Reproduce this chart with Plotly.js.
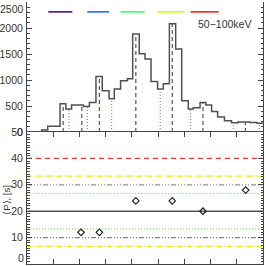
<!DOCTYPE html>
<html><head><meta charset="utf-8">
<script src="https://cdn.plot.ly/plotly-3.0.1.min.js"></script>
<style>html,body{margin:0;padding:0;background:#fff}#c{width:266px;height:266px}</style>
</head><body><div id="c"></div>
<script>
// light curve bin edges (s) and counts
const binEdges = [0,5.6,7.9,12.6,14.8,17.0,21.5,23.8,26.3,28.7,31.3,33.3,35.7,38.3,40.3,42.8,45.0,47.3,49.8,52.0,54.3,56.7,59.0,61.5,63.4,66.0,68.2,70.4,72.7,75.3,78.0,80.5,85.0,87.7,90];
const counts   = [0,40,110,544,442,519,492,569,1069,794,640,827,987,1025,1885,1506,1404,973,827,929,2083,1596,602,442,467,569,519,396,288,215,180,190,182,168];
// peak (dashed) and valley (dotted) times
const peakTimes   = [13.8,20.9,27.6,41.5,55.4,67.1,83.3];
const valleyTimes = [16.0,23.0,32.3,50.8,62.4,78.6,88.6];
// mean periods
const periodTimes  = [20.6,27.6,41.5,55.4,67.1,83.4];
const periodValues = [12,12,23.9,23.9,20,28];
// reference period lines
const refLevels = [40,33.3,30,26.7,20,13.3,10,6.7];
const refColors = ['#ff3030','#e0f000','#909090','#80f040','#555555','#80f040','#808080','#e0f000'];
const refDash   = ['5px,4px','5px,2px,1px,2px','5px,2px,1px,2px,1px,2px,1px,2px','1px,2px','solid','1px,2px','5px,2px,1px,2px,1px,2px,1px,2px','5px,2px,1px,2px'];
// colored segments at top
const segStart = [8.1,23.0,35.7,49.7,62.4];
const segEnd   = [17.3,31.3,44.9,60.1,73.1];
const segColors = ['#48005a','#1f5cff','#20ff70','#c8ff00','#ff1010'];
const segLevel = 2310;
const bandLabel = '50\u2212100keV';
// tick labels
const countTicks = [0,500,1000,1500,2000,2500];
const periodTicks = [0,10,20,30,40,50];

function histAt(t){
  for(let i=0;i<counts.length;i++){ if(t>=binEdges[i] && t<binEdges[i+1]) return counts[i]; }
  return counts[counts.length-1];
}
const traces = [];
traces.push({x: binEdges, y: counts.concat([counts[counts.length-1]]), mode:'lines', line:{shape:'hv', color:'#505050', width:1.5}, xaxis:'x', yaxis:'y2', hoverinfo:'skip'});
peakTimes.forEach(t=>traces.push({x:[t,t], y:[0,histAt(t)], mode:'lines', line:{color:'#555', width:1.2, dash:'4px,3px'}, xaxis:'x', yaxis:'y2'}));
valleyTimes.forEach(t=>traces.push({x:[t,t], y:[0,histAt(t)], mode:'lines', line:{color:'#6868ff', width:1, dash:'1px,2px'}, xaxis:'x', yaxis:'y2'}));
segStart.forEach((s,i)=>traces.push({x:[s,segEnd[i]], y:[segLevel,segLevel], mode:'lines', line:{color:segColors[i], width:1.5}, xaxis:'x', yaxis:'y2'}));
refLevels.forEach((v,i)=>traces.push({x:[0,90], y:[v,v], mode:'lines', line:{color:refColors[i], width: i===4?1.5:1.2, dash:refDash[i]}, xaxis:'x', yaxis:'y'}));
traces.push({x:periodTimes, y:periodValues, mode:'markers', marker:{symbol:'diamond-open', size:5, color:'#222', line:{width:1.2, color:'#222'}}, xaxis:'x', yaxis:'y'});

const axCommon = {showline:true, linecolor:'#444', linewidth:1, mirror:'ticks', ticks:'inside', tickcolor:'#444', showgrid:false, zeroline:false};
const tickFont = {size:10.5, color:'#333'};
const annotations = [
  {text:bandLabel, xref:'x', yref:'y2', x:86, y:2077, xanchor:'right', yanchor:'middle', showarrow:false, font:{size:10.5, color:'#333'}},
  {text:'\u27E8P\u27E9, [s]', xref:'paper', yref:'paper', x:-0.085, y:0.245, xanchor:'center', yanchor:'middle', textangle:-90, showarrow:false, font:{size:9.5, color:'#333'}},
  // edge tick labels that would otherwise be hidden by the div edge
  {text:String(countTicks[countTicks.length-1]), xref:'paper', yref:'y2', x:0, y:countTicks[countTicks.length-1], xanchor:'right', yanchor:'top', yshift:1, xshift:-1, showarrow:false, font:tickFont},
  {text:String(periodTicks[0]), xref:'paper', yref:'y', x:0, y:periodTicks[0], xanchor:'right', yanchor:'bottom', yshift:-2, xshift:-1, showarrow:false, font:tickFont}
];
const layout = {
  width:266, height:266, margin:{l:27, r:3, t:2, b:2},
  paper_bgcolor:'#fff', plot_bgcolor:'#fff', showlegend:false,
  font:{family:'Liberation Sans, Arial, sans-serif', size:10.5, color:'#333'},
  xaxis: Object.assign({}, axCommon, {range:[0,90], dtick:10, tick0:0, ticklen:5, showticklabels:false, anchor:'y'}),
  xaxis2: Object.assign({}, axCommon, {range:[0,90], dtick:10, tick0:0, ticklen:5, showticklabels:false, anchor:'y2', matches:'x'}),
  yaxis: Object.assign({}, axCommon, {domain:[0,0.5038], range:[0,50], tickvals:periodTicks.slice(1), ticktext:periodTicks.slice(1).map(String), ticklen:5, ticklabelstandoff:1, tickfont:tickFont,
      minor:{dtick:1, ticklen:2.5, ticks:'inside', tickcolor:'#444'}}),
  yaxis2: Object.assign({}, axCommon, {domain:[0.5038,1], range:[0,2500], tickvals:countTicks.slice(0,-1), ticktext:countTicks.slice(0,-1).map(String), ticklen:5, ticklabelstandoff:1, tickfont:tickFont,
      minor:{dtick:100, ticklen:2.5, ticks:'inside', tickcolor:'#444'}}),
  annotations: annotations
};
Plotly.newPlot('c', traces, layout, {staticPlot:true, displayModeBar:false});
</script></body></html>
